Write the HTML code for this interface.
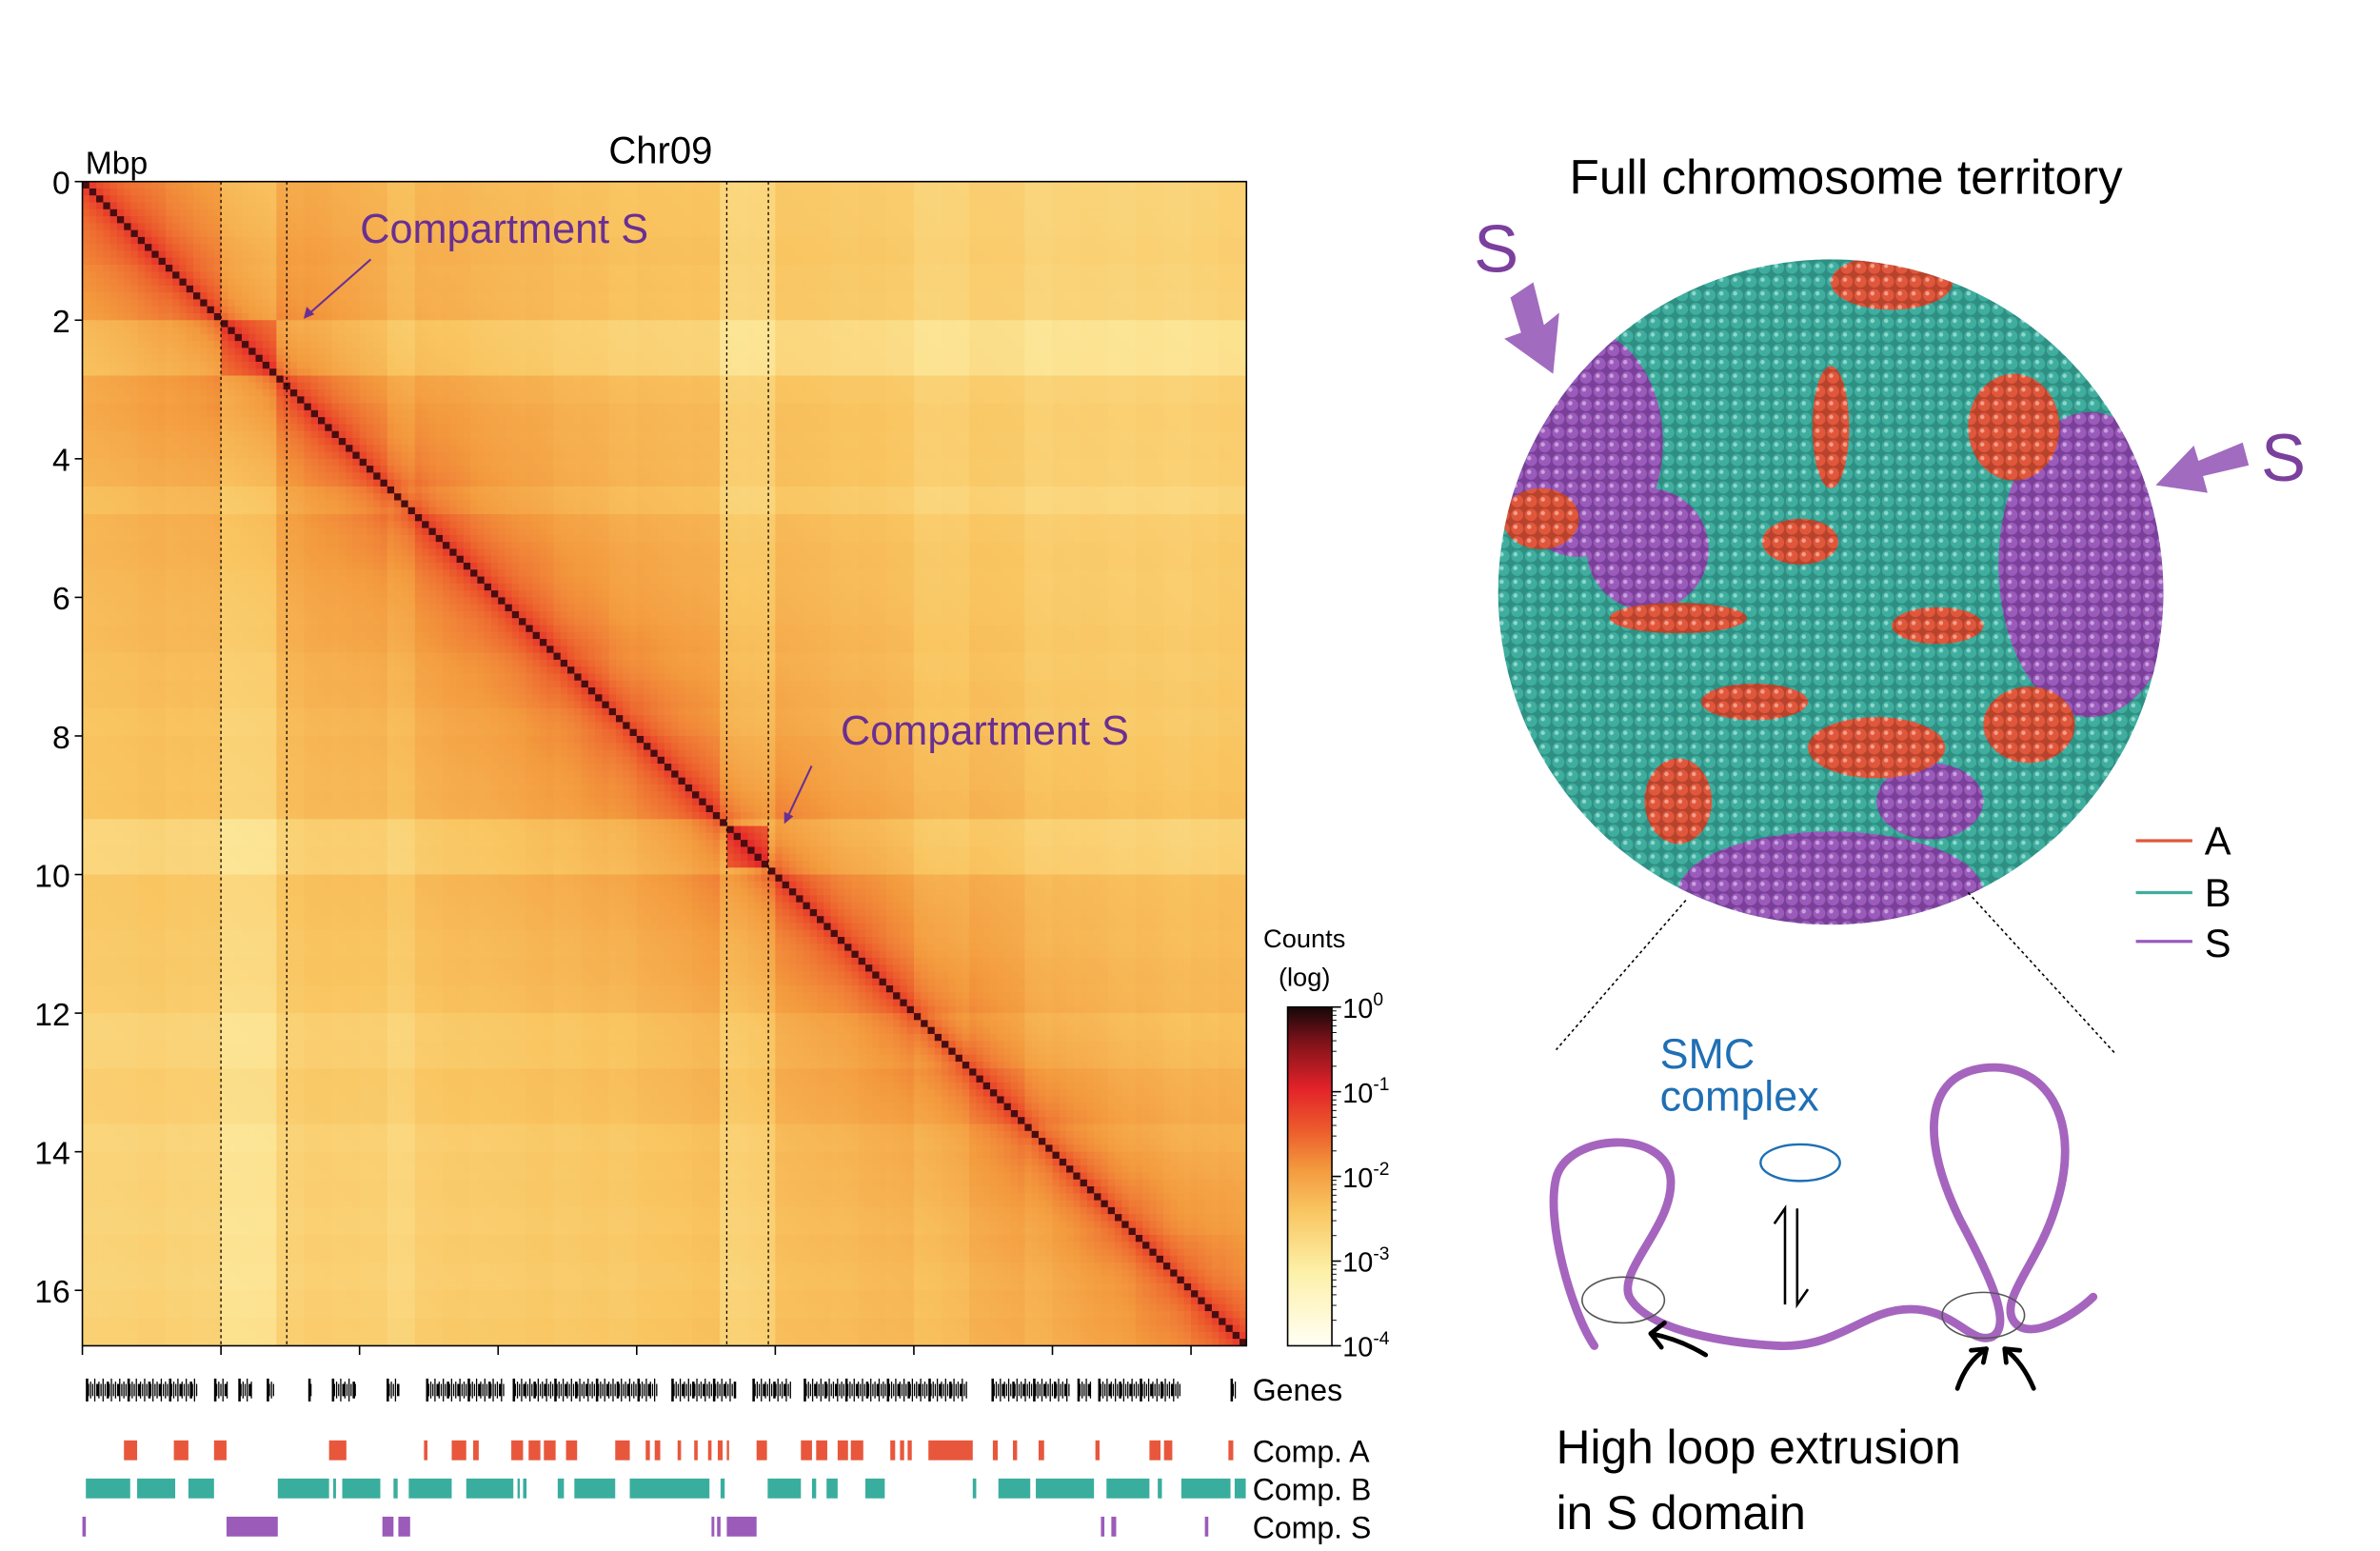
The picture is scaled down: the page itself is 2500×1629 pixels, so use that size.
<!DOCTYPE html>
<html><head><meta charset="utf-8">
<style>
html,body{margin:0;padding:0;background:#fff;}
svg{display:block;font-family:"Liberation Sans",sans-serif;}
</style></head>
<body>
<svg id="fig" width="2500" height="1629" viewBox="0 0 1560 1016.5" xmlns="http://www.w3.org/2000/svg">
<defs>
  <pattern id="pTeal" width="9" height="9" patternUnits="userSpaceOnUse">
    <rect width="9" height="9" fill="#2f8f83"/>
    <circle cx="4.5" cy="4.5" r="4" fill="#3fae9f"/><circle cx="3.3" cy="3.3" r="1.4" fill="#8fd6cb"/>
  </pattern>
  <pattern id="pPurp" width="9" height="9" patternUnits="userSpaceOnUse">
    <rect width="9" height="9" fill="#7a3f98"/>
    <circle cx="4.5" cy="4.5" r="4" fill="#9a5bbb"/><circle cx="3.3" cy="3.3" r="1.4" fill="#caa0dc"/>
  </pattern>
  <pattern id="pRed" width="9" height="9" patternUnits="userSpaceOnUse">
    <rect width="9" height="9" fill="#b8432c"/>
    <circle cx="4.5" cy="4.5" r="4" fill="#e0573c"/><circle cx="3.3" cy="3.3" r="1.4" fill="#f3a08c"/>
  </pattern>
  <clipPath id="sphereClip"><circle cx="1200" cy="388" r="218"/></clipPath>
  <linearGradient id="cbGrad" x1="0" y1="1" x2="0" y2="0">
    <stop offset="0" stop-color="#fffff4"/>
    <stop offset="0.22" stop-color="#fdf0a8"/>
    <stop offset="0.4" stop-color="#f9c561"/>
    <stop offset="0.52" stop-color="#f39a3e"/>
    <stop offset="0.64" stop-color="#ec5a2c"/>
    <stop offset="0.76" stop-color="#e3222a"/>
    <stop offset="0.9" stop-color="#7c1219"/>
    <stop offset="1" stop-color="#150709"/>
  </linearGradient>
</defs>
<g id="heatmap"></g>
<g id="axes"></g>
<g id="tracks"></g>

<text x="433" y="107" font-size="25" text-anchor="middle">Chr09</text>
<text x="56" y="114" font-size="21">Mbp</text>

<text x="236" y="159" font-size="27" fill="#6a2f93">Compartment S</text>
<line x1="243" y1="170" x2="201" y2="207" stroke="#6a2f93" stroke-width="1.3"/>
<path d="M199,209 l2,-8 l5,5 z" fill="#6a2f93"/>
<text x="551" y="488" font-size="27" fill="#6a2f93">Compartment S</text>
<line x1="532" y1="502" x2="516" y2="536" stroke="#6a2f93" stroke-width="1.3"/>
<path d="M514,540 l0,-8 l6,3 z" fill="#6a2f93"/>

<g>
  <text x="855" y="621" font-size="17" text-anchor="middle">Counts</text>
  <text x="855" y="646" font-size="17" text-anchor="middle">(log)</text>
  <rect x="844" y="660" width="29" height="222" fill="url(#cbGrad)" stroke="#000" stroke-width="1"/>
  <g id="cbTicks"></g>
</g>

<text x="1210" y="127" font-size="32" text-anchor="middle">Full chromosome territory</text>
<g clip-path="url(#sphereClip)">
  <rect x="970" y="160" width="460" height="460" fill="url(#pTeal)"/>
  <ellipse cx="1035" cy="290" rx="55" ry="75" fill="url(#pPurp)"/>
  <ellipse cx="1080" cy="360" rx="40" ry="40" fill="url(#pPurp)"/>
  <ellipse cx="1370" cy="370" rx="60" ry="100" fill="url(#pPurp)"/>
  <ellipse cx="1320" cy="280" rx="30" ry="35" fill="url(#pRed)"/>
  <ellipse cx="1200" cy="585" rx="100" ry="40" fill="url(#pPurp)"/>
  <ellipse cx="1265" cy="525" rx="35" ry="25" fill="url(#pPurp)"/>
  <ellipse cx="1100" cy="525" rx="22" ry="28" fill="url(#pRed)"/>
  <ellipse cx="1240" cy="185" rx="40" ry="18" fill="url(#pRed)"/>
  <ellipse cx="1180" cy="355" rx="25" ry="15" fill="url(#pRed)"/>
  <ellipse cx="1100" cy="405" rx="45" ry="10" fill="url(#pRed)"/>
  <ellipse cx="1230" cy="490" rx="45" ry="20" fill="url(#pRed)"/>
  <ellipse cx="1330" cy="475" rx="30" ry="25" fill="url(#pRed)"/>
  <ellipse cx="1150" cy="460" rx="35" ry="12" fill="url(#pRed)"/>
  <ellipse cx="1010" cy="340" rx="25" ry="20" fill="url(#pRed)"/>
  <ellipse cx="1200" cy="280" rx="12" ry="40" fill="url(#pRed)"/>
  <ellipse cx="1270" cy="410" rx="30" ry="12" fill="url(#pRed)"/>
</g>
<text x="966" y="178" font-size="44" fill="#7b3f9e">S</text>
<path d="M990,195 L1005,185 L1012,213 L1022,205 L1018,245 L986,222 L997,218 Z" fill="#a16bbf"/>
<text x="1482" y="315" font-size="44" fill="#7b3f9e">S</text>
<path d="M1470,290 L1474,305 L1444,312 L1447,323 L1413,318 L1438,292 L1441,302 Z" fill="#a16bbf"/>

<g>
  <line x1="1400" y1="551" x2="1437" y2="551" stroke="#e0573c" stroke-width="2"/>
  <text x="1445" y="560" font-size="26">A</text>
  <line x1="1400" y1="585" x2="1437" y2="585" stroke="#3fae9f" stroke-width="2"/>
  <text x="1445" y="594" font-size="26">B</text>
  <line x1="1400" y1="617" x2="1437" y2="617" stroke="#9a5bbb" stroke-width="2"/>
  <text x="1445" y="627" font-size="26">S</text>
</g>

<line x1="1105" y1="590" x2="1020" y2="688" stroke="#000" stroke-width="1" stroke-dasharray="2,2"/>
<line x1="1290" y1="585" x2="1386" y2="690" stroke="#000" stroke-width="1" stroke-dasharray="2,2"/>

<text x="1088" y="700" font-size="28" fill="#1f6fb4">SMC</text>
<text x="1088" y="728" font-size="28" fill="#1f6fb4">complex</text>
<ellipse cx="1180" cy="762" rx="26" ry="12" fill="none" stroke="#1f6fb4" stroke-width="1.5"/>
<g stroke="#000" stroke-width="1.6" fill="none">
  <path d="M1170,855 L1170,792 L1163,802"/>
  <path d="M1178,792 L1178,855 L1185,845"/>
</g>
<path d="M1045,882 C1030,860 1013,800 1020,772 C1028,742 1092,740 1095,772 C1098,802 1060,832 1068,850 C1080,872 1130,880 1165,882 C1205,884 1222,858 1252,858 C1282,858 1292,882 1306,876 C1320,868 1302,832 1285,800 C1258,745 1262,705 1300,700 C1342,695 1366,735 1347,792 C1336,828 1310,852 1320,866 C1330,880 1360,862 1372,850" fill="none" stroke="#a565be" stroke-width="5.5" stroke-linecap="round"/>
<ellipse cx="1064" cy="852" rx="27" ry="15" fill="none" stroke="#555" stroke-width="1"/>
<ellipse cx="1300" cy="862" rx="27" ry="15" fill="none" stroke="#555" stroke-width="1"/>
<g stroke="#000" stroke-width="3" fill="none" stroke-linecap="round">
  <path d="M1118,888 C1105,880 1092,876 1082,874"/><path d="M1082,874 l9,-7 M1082,874 l7,9"/>
  <path d="M1283,910 C1287,898 1293,890 1302,884"/><path d="M1302,884 l-10,1 M1302,884 l-2,9"/>
  <path d="M1333,910 C1328,898 1322,890 1314,884"/><path d="M1314,884 l10,1 M1314,884 l1,9"/>
</g>
<text x="1020" y="959" font-size="31">High loop extrusion</text>
<text x="1020" y="1002" font-size="31">in S domain</text>
</svg>

<script>
// ---- data ----
const binProfile = [0.4,0.4,0.5,0.3,0.2,-1.2,-1.2,0.2,0.4,0.3,0.2,-0.4,0.3,0.4,0.3,0.3,0.4,0.2,0.3,0.1,0.3,0.3,0.4,-1.0,-0.9,0.3,0.3,0.2,0.3,0.2,-0.4,-0.3,0.2,0.2,-0.3,-0.1,0.0,-0.1,0.1,0.0,0.2,0.4];
const sDomains = [[2.0,2.8],[9.3,9.9]];
const yTicks = [0,2,4,6,8,10,12,14,16];
const xTicks = [0,2,4,6,8,10,12,14,16];
const dashedLines = [2.0,2.95,9.3,9.9];
const cbTickValues = [0,-1,-2,-3,-4];
const compA = [[0.60,0.79],[1.32,1.53],[1.90,2.08],[3.56,3.81],[4.93,4.98],[5.33,5.54],[5.64,5.72],[6.19,6.36],[6.44,6.61],[6.66,6.83],[6.98,7.14],[7.69,7.90],[8.13,8.19],[8.26,8.34],[8.59,8.64],[8.83,8.88],[9.03,9.08],[9.17,9.24],[9.30,9.33],[9.73,9.88],[10.37,10.53],[10.59,10.75],[10.90,11.05],[11.09,11.27],[11.66,11.73],[11.80,11.86],[11.91,11.97],[12.21,12.85],[13.14,13.21],[13.43,13.49],[13.80,13.88],[14.62,14.68],[15.40,15.56],[15.61,15.73],[16.54,16.61]];
const compB = [[0.05,0.69],[0.79,1.34],[1.53,1.90],[2.82,3.56],[3.62,3.66],[3.75,4.30],[4.49,4.55],[4.71,5.33],[5.54,6.22],[6.28,6.31],[6.36,6.41],[6.86,6.95],[7.10,7.69],[7.90,9.05],[9.21,9.27],[9.89,10.37],[10.53,10.59],[10.74,10.90],[11.30,11.58],[12.85,12.90],[13.22,13.68],[13.76,14.60],[14.78,15.40],[15.52,15.58],[15.86,16.57],[16.63,16.79]];
const compS = [[0.0,0.05],[2.08,2.82],[4.33,4.49],[4.56,4.73],[9.08,9.12],[9.16,9.21],[9.30,9.73],[14.70,14.75],[14.85,14.92],[16.20,16.25]];
const geneClusters = [[0.05,1.65],[1.90,2.08],[2.25,2.45],[2.66,2.76],[3.26,3.30],[3.60,3.93],[4.39,4.55],[4.96,6.09],[6.21,8.31],[8.50,9.42],[9.67,10.22],[10.41,12.76],[13.12,14.23],[14.36,14.54],[14.66,15.83],[16.57,16.64]];

// ---- scales ----
const NS='http://www.w3.org/2000/svg';
const X0=54, X1=817, Y0=119, Y1=882, MAXM=16.8;
const xs = m => X0 + (X1-X0)*m/MAXM;
const ys = m => Y0 + (Y1-Y0)*m/MAXM;
const cbY = v => 660 + (0 - v)/4*222;
function mk(tag, attrs, parent){const e=document.createElementNS(NS,tag);for(const k in attrs)e.setAttribute(k,attrs[k]);parent.appendChild(e);return e;}

const stops=[[0,[255,255,244]],[0.22,[253,240,168]],[0.4,[249,197,97]],[0.52,[243,154,62]],[0.64,[236,90,44]],[0.76,[227,34,42]],[0.9,[124,18,25]],[1,[21,7,9]]];
function cmap(v){let t=Math.max(0,Math.min(1,(v+4)/4));for(let i=1;i<stops.length;i++){if(t<=stops[i][0]){const a=stops[i-1],b=stops[i];const f=(t-a[0])/(b[0]-a[0]);return 'rgb('+a[1].map((c,k)=>Math.round(c+(b[1][k]-c)*f)).join(',')+')';}}return 'rgb(21,7,9)';}
function inS(m){return sDomains.findIndex(d=>m>=d[0]&&m<d[1]);}

// ---- heatmap ----
const hm=document.getElementById('heatmap');
const N=168, step=MAXM/N, cw=(X1-X0)/N;
for(let i=0;i<N;i++){for(let j=0;j<N;j++){
  const mi=(i+0.5)*step, mj=(j+0.5)*step;
  const d=Math.abs(i-j);
  let v=-1.15-0.72*Math.log10(1+d);
  const pi=binProfile[Math.floor(mi/0.4)], pj=binProfile[Math.floor(mj/0.4)];
  v+=0.2*(pi+pj);
  const si=inS(mi), sj=inS(mj);
  if(si>=0 && si===sj) v+=0.7;
  if(d===0) v=-0.2;
  const r=mk('rect',{x:xs(j*step),y:ys(i*step),width:cw+0.3,height:cw+0.3,fill:cmap(v)},hm);
  
  
}}

// ---- axes ----
const ax=document.getElementById('axes');
const frame=mk('rect',{x:X0,y:Y0,width:X1-X0,height:Y1-Y0,fill:'none',stroke:'#000','stroke-width':1},ax);


dashedLines.forEach(m=>{const l=mk('line',{x1:xs(m),x2:xs(m),y1:Y0,y2:Y1,stroke:'#000','stroke-width':0.8,'stroke-dasharray':'2,2'},ax);
  
  });
yTicks.forEach(t=>{mk('line',{x1:X0-5,x2:X0,y1:ys(t),y2:ys(t),stroke:'#000'},ax);
  const tx=mk('text',{x:X0-8,y:ys(t)+8,'font-size':21,'text-anchor':'end'},ax);tx.textContent=t;
  
  });
xTicks.forEach(t=>{const l=mk('line',{x1:xs(t),x2:xs(t),y1:Y1,y2:Y1+6,stroke:'#000'},ax);
  
  });

// ---- colorbar ticks ----
const cbt=document.getElementById('cbTicks');
cbTickValues.forEach(v=>{mk('line',{x1:873,x2:879,y1:cbY(v),y2:cbY(v),stroke:'#000'},cbt);
  const tx=mk('text',{x:880,y:cbY(v)+7,'font-size':18},cbt);tx.textContent='10';
  
  
  const sp=mk('tspan',{dy:-8,'font-size':12},tx);sp.textContent=(v===0?'0':String(v));
  for(let k=2;k<10&&v>-4;k++){const y=cbY(v-1+Math.log10(k));mk('line',{x1:873,x2:876,y1:y,y2:y,stroke:'#000','stroke-width':0.6},cbt);}
});

// ---- tracks ----
const tr=document.getElementById('tracks');
geneClusters.forEach(c=>{for(let m=c[0],k=0;m<=c[1];m+=0.03,k++){
  const h=(k%4===0)?15:(k%2===0?11:8);
  const g=mk('rect',{x:xs(m),y:911-h/2,width:(k%5===0)?1.6:0.8,height:h,fill:'#000'},tr);
  
  }});
function seg(arr,y,col,name){arr.forEach(s=>{const r=mk('rect',{x:xs(s[0]),y:y,width:Math.max(1.5,xs(s[1])-xs(s[0])),height:13,fill:col},tr);
  
  });}
seg(compA,944,'#e8573c','comp-a-segment');
seg(compB,969,'#3aae9e','comp-b-segment');
seg(compS,994,'#9b5bb9','comp-s-segment');
[['Genes',918],['Comp. A',958],['Comp. B',983],['Comp. S',1008]].forEach(p=>{const t=mk('text',{x:821,y:p[1],'font-size':20},tr);t.textContent=p[0];
  
  });
</script>
</body></html>
